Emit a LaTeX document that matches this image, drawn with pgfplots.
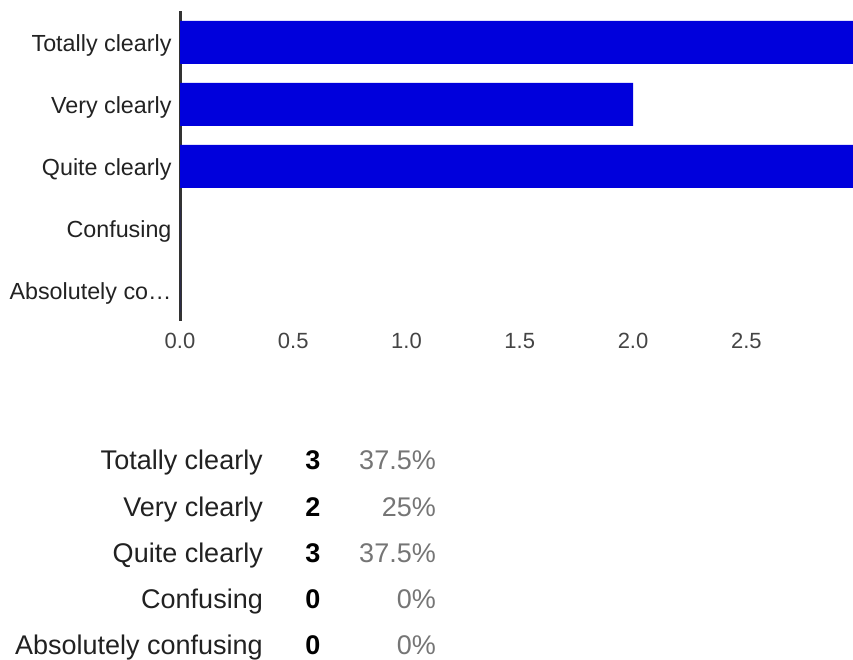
\documentclass[border=0pt]{standalone}
\usepackage{fontspec}
\setmainfont{Liberation Sans}
\usepackage{pgfplots}
\pgfplotsset{compat=1.18}
\definecolor{barblue}{RGB}{0,0,220}
\definecolor{axisgray}{HTML}{333333}
\definecolor{tickgray}{HTML}{444444}
\definecolor{labelgray}{HTML}{222222}
\definecolor{tabtext}{HTML}{212121}
\definecolor{pctgray}{HTML}{757575}
\begin{document}
\begin{tikzpicture}
\path[use as bounding box] (0,0) rectangle (853pt,660pt);
\begin{axis}[
  at={(180pt,338.5pt)}, anchor=south west,
  scale only axis, width=673pt, height=310pt,
  xmin=0, xmax=2.971, ymin=-0.5, ymax=4.5, y dir=reverse,
  xbar, bar width=43pt, bar shift=0pt,
  axis y line*=left, axis x line*=bottom,
  x axis line style={draw=none},
  every outer y axis line/.append style={draw=axisgray, line width=3pt},
  y axis line style={draw=axisgray, line width=3pt},
  major tick length=0pt,
  xtick={0,0.5,1,1.5,2,2.5}, xticklabels={0.0,0.5,1.0,1.5,2.0,2.5},
  ytick={0,1,2,3,4},
  yticklabels={Totally clearly, Very clearly, Quite clearly, Confusing, Absolutely co…},
  x tick label style={font=\fontsize{22}{26}\selectfont, text=tickgray, anchor=base, yshift=-27pt},
  y tick label style={font=\fontsize{23.3}{27}\selectfont, text=labelgray, anchor=base east, yshift=-9.2pt, xshift=-5pt},
  /pgf/number format/assume math mode=true,
]
\addplot[draw=none, fill=barblue] coordinates {(3,0) (2,1) (3,2) (0,3) (0,4)};
\end{axis}
\begin{scope}[every node/.style={inner sep=0pt, font=\fontsize{27}{30}\selectfont}]
\node[anchor=base east, text=tabtext] at (263pt,190pt) {Totally clearly};
\node[anchor=base east, text=tabtext] at (263pt,143.8pt) {Very clearly};
\node[anchor=base east, text=tabtext] at (263pt,97.6pt) {Quite clearly};
\node[anchor=base east, text=tabtext] at (263pt,51.4pt) {Confusing};
\node[anchor=base east, text=tabtext] at (263pt,5.2pt) {Absolutely confusing};
\node[anchor=base, text=black] at (313pt,190pt) {\bfseries 3};
\node[anchor=base, text=black] at (313pt,143.8pt) {\bfseries 2};
\node[anchor=base, text=black] at (313pt,97.6pt) {\bfseries 3};
\node[anchor=base, text=black] at (313pt,51.4pt) {\bfseries 0};
\node[anchor=base, text=black] at (313pt,5.2pt) {\bfseries 0};
\node[anchor=base east, text=pctgray] at (436pt,190pt) {37.5\%};
\node[anchor=base east, text=pctgray] at (436pt,143.8pt) {25\%};
\node[anchor=base east, text=pctgray] at (436pt,97.6pt) {37.5\%};
\node[anchor=base east, text=pctgray] at (436pt,51.4pt) {0\%};
\node[anchor=base east, text=pctgray] at (436pt,5.2pt) {0\%};
\end{scope}
\end{tikzpicture}
\end{document}
